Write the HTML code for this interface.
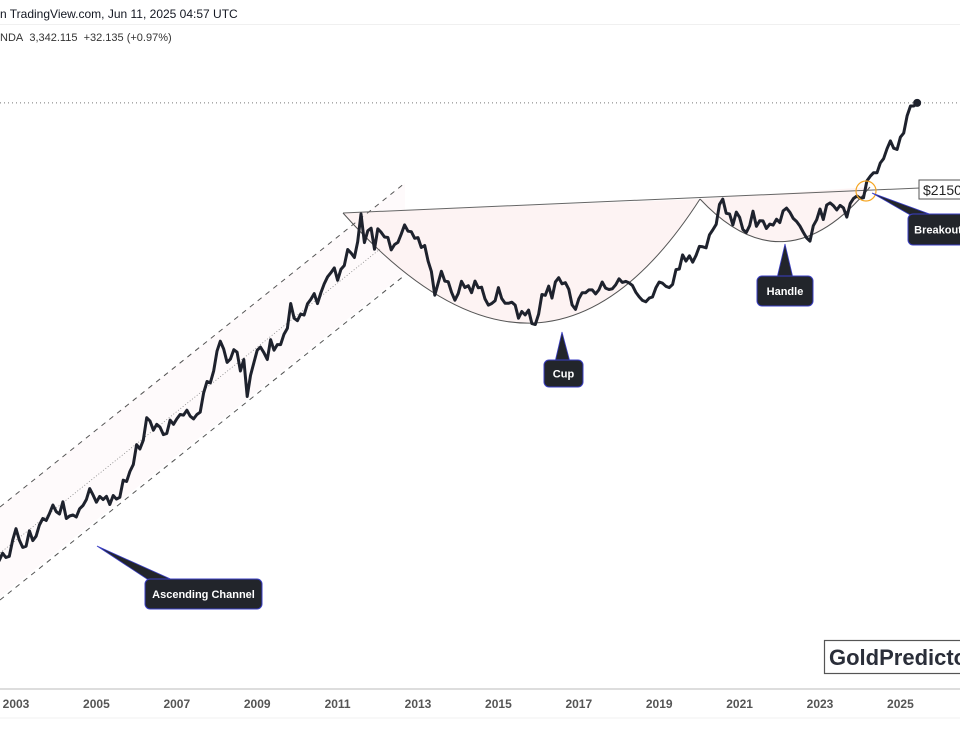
<!DOCTYPE html>
<html><head><meta charset="utf-8">
<style>
html,body{margin:0;padding:0;background:#fff;}
#wrap{position:relative;width:960px;height:750px;overflow:hidden;font-family:"Liberation Sans","DejaVu Sans",sans-serif;}
.hdr{position:absolute;left:0;font-size:12px;color:#131722;white-space:nowrap;}
svg{position:absolute;left:0;top:0;}
</style></head>
<body>
<div id="wrap">
<div class="hdr" style="top:7px">n TradingView.com, Jun 11, 2025 04:57 UTC</div>
<div style="position:absolute;left:0;top:24px;width:960px;height:1px;background:#f0f0f0"></div>
<div class="hdr" style="top:32px;font-size:11px;color:#333">NDA&nbsp; 3,342.115&nbsp; +32.135 (+0.97%)</div>
<svg id="chart" width="960" height="750"></svg>
</div>
<script>
const startYear = 2002.5;
const prices = [
304,312,324,317,319,347,
368,347,334,336,364,346,354,375,388,384,398,416,
402,397,423,388,393,395,391,408,415,428,453,438,
422,435,428,435,417,437,429,433,473,470,495,513,
569,556,582,654,643,613,632,623,599,603,646,632,
650,665,663,680,659,650,665,673,743,789,783,834,
923,972,933,871,886,930,918,833,884,730,814,870,
928,943,916,884,980,928,955,955,1008,1040,1182,1095,
1081,1119,1113,1180,1207,1244,1181,1248,1308,1357,1386,1421,
1333,1410,1439,1563,1536,1500,1628,1880,1620,1722,1746,1566,
1740,1710,1668,1664,1560,1604,1622,1692,1776,1719,1714,1657,
1663,1580,1596,1472,1394,1234,1312,1396,1327,1323,1253,1202,
1244,1326,1284,1296,1250,1327,1282,1286,1210,1172,1182,1199,
1283,1213,1183,1183,1190,1172,1095,1134,1114,1142,1065,1060,
1118,1238,1233,1293,1215,1322,1351,1309,1316,1272,1173,1146,
1211,1249,1249,1268,1268,1242,1269,1321,1280,1271,1275,1302,
1343,1318,1325,1315,1298,1253,1224,1201,1192,1215,1222,1282,
1321,1313,1292,1283,1305,1409,1413,1520,1472,1513,1464,1517,
1589,1585,1577,1687,1730,1781,1975,2030,1886,1879,1776,1898,
1847,1734,1707,1769,1906,1763,1814,1813,1743,1783,1774,1829,
1797,1909,1937,1896,1837,1807,1766,1711,1660,1633,1768,1824,
1928,1826,1969,1990,1962,1919,1965,1940,1849,1983,2036,2063,
2039,2044,2230,2286,2327,2326,2447,2503,2634,2744,2643,2625,
2798,2858,3124,3288,3289,3342];
const tickYears = [2003,2005,2007,2009,2011,2013,2015,2017,2019,2021,2023,2025];
const neckPrice = 2150;
const lastPrice = 3342;

const NS="http://www.w3.org/2000/svg";
const svg=document.getElementById('chart');
function xOf(yr){return 16+(yr-2003)*40.2;}
function yOf(p){return 188-Math.log(p/2150)*193;}
function mk(t,a,parent){const e=document.createElementNS(NS,t);for(const k in a)e.setAttribute(k,a[k]);(parent||svg).appendChild(e);return e;}

let e;
e=mk('polygon',{points:"0,507 405,183 405,273 0,597",fill:"#fefafb"});


e=mk('path',{d:"M343,213 Q545,440 700,199 Z",fill:"#fdf3f3"});


e=mk('path',{d:"M700,199 Q785,290 870,187 Z",fill:"#fdf3f3"});



e=mk('line',{x1:0,y1:507,x2:405,y2:183,stroke:"#555","stroke-width":1,"stroke-dasharray":"5,5"});


e=mk('line',{x1:0,y1:600,x2:405,y2:275,stroke:"#555","stroke-width":1,"stroke-dasharray":"5,5"});


e=mk('line',{x1:0,y1:553,x2:380,y2:249,stroke:"#888","stroke-width":0.8,"stroke-dasharray":"1,2"});



e=mk('line',{x1:0,y1:yOf(lastPrice),x2:960,y2:yOf(lastPrice),stroke:"#777","stroke-width":1,"stroke-dasharray":"1,3"});



e=mk('line',{x1:343,y1:213,x2:920,y2:yOf(neckPrice),stroke:"#666","stroke-width":1});


e=mk('path',{d:"M343,213 Q545,440 700,199",fill:"none",stroke:"#555","stroke-width":1});


e=mk('path',{d:"M700,199 Q785,290 870,187",fill:"none",stroke:"#555","stroke-width":1});



let d='';
prices.forEach((p,i)=>{const x=xOf(startYear+i/12),y=yOf(p);d+=(i?'L':'M')+x.toFixed(1)+','+y.toFixed(1);});
e=mk('path',{d:d,fill:"none",stroke:"#1e222d","stroke-width":3,"stroke-linejoin":"round"});


const li=prices.length-1;
e=mk('circle',{cx:xOf(startYear+li/12),cy:yOf(prices[li]),r:4,fill:"#1e222d"});



e=mk('circle',{cx:866,cy:191,r:10,fill:"none",stroke:"#f5a623","stroke-width":1.2});



e=mk('rect',{x:919,y:180,width:50,height:19,fill:"#fff",stroke:"#555","stroke-width":1});


e=mk('text',{x:923,y:195,"font-size":14,fill:"#222","font-family":"Liberation Sans, sans-serif"});
e.textContent='$2150';



function callout(name,tri,bx,by,bw,bh,text){
  const g=mk('g',{});
  
  
  mk('polygon',{points:tri,fill:"#22252b",stroke:"#3b3fc4","stroke-width":0.8},g);
  mk('rect',{x:bx,y:by,width:bw,height:bh,rx:5,fill:"#22252b",stroke:"#3b3fc4","stroke-width":1},g);
  const t=mk('text',{x:bx+bw/2,y:by+bh/2+4,"text-anchor":"middle","font-size":11,"font-weight":"bold",fill:"#fff","font-family":"Liberation Sans, sans-serif"},g);
  t.textContent=text;
}
callout('ascending-channel-callout',"97,546 150,581 175,581",145,579,117,30,'Ascending Channel');
callout('cup-callout',"562,332 555,362 570,362",544,360,39,27,'Cup');
callout('handle-callout',"785,244 777,278 793,278",757,276,56,30,'Handle');
callout('breakout-callout',"872,193 912,216 935,216",908,214,60,31,'Breakout');

e=mk('line',{x1:0,y1:689,x2:960,y2:689,stroke:"#bbb","stroke-width":1});


e=mk('line',{x1:0,y1:718,x2:960,y2:718,stroke:"#f0f0f0","stroke-width":1});


tickYears.forEach(yr=>{
  const t=mk('text',{x:xOf(yr),y:708,"text-anchor":"middle","font-size":12,"font-weight":"bold",fill:"#555","font-family":"Liberation Sans, sans-serif"});
  t.textContent=String(yr);
  
  
});

e=mk('rect',{x:824.5,y:640.5,width:150,height:33,fill:"#fff",stroke:"#555","stroke-width":1.2});


e=mk('text',{x:829,y:665,"font-size":22,"font-weight":"bold",fill:"#2a2e39","font-family":"Liberation Sans, sans-serif"});
e.textContent='GoldPredictor';


</script>
</body></html>
